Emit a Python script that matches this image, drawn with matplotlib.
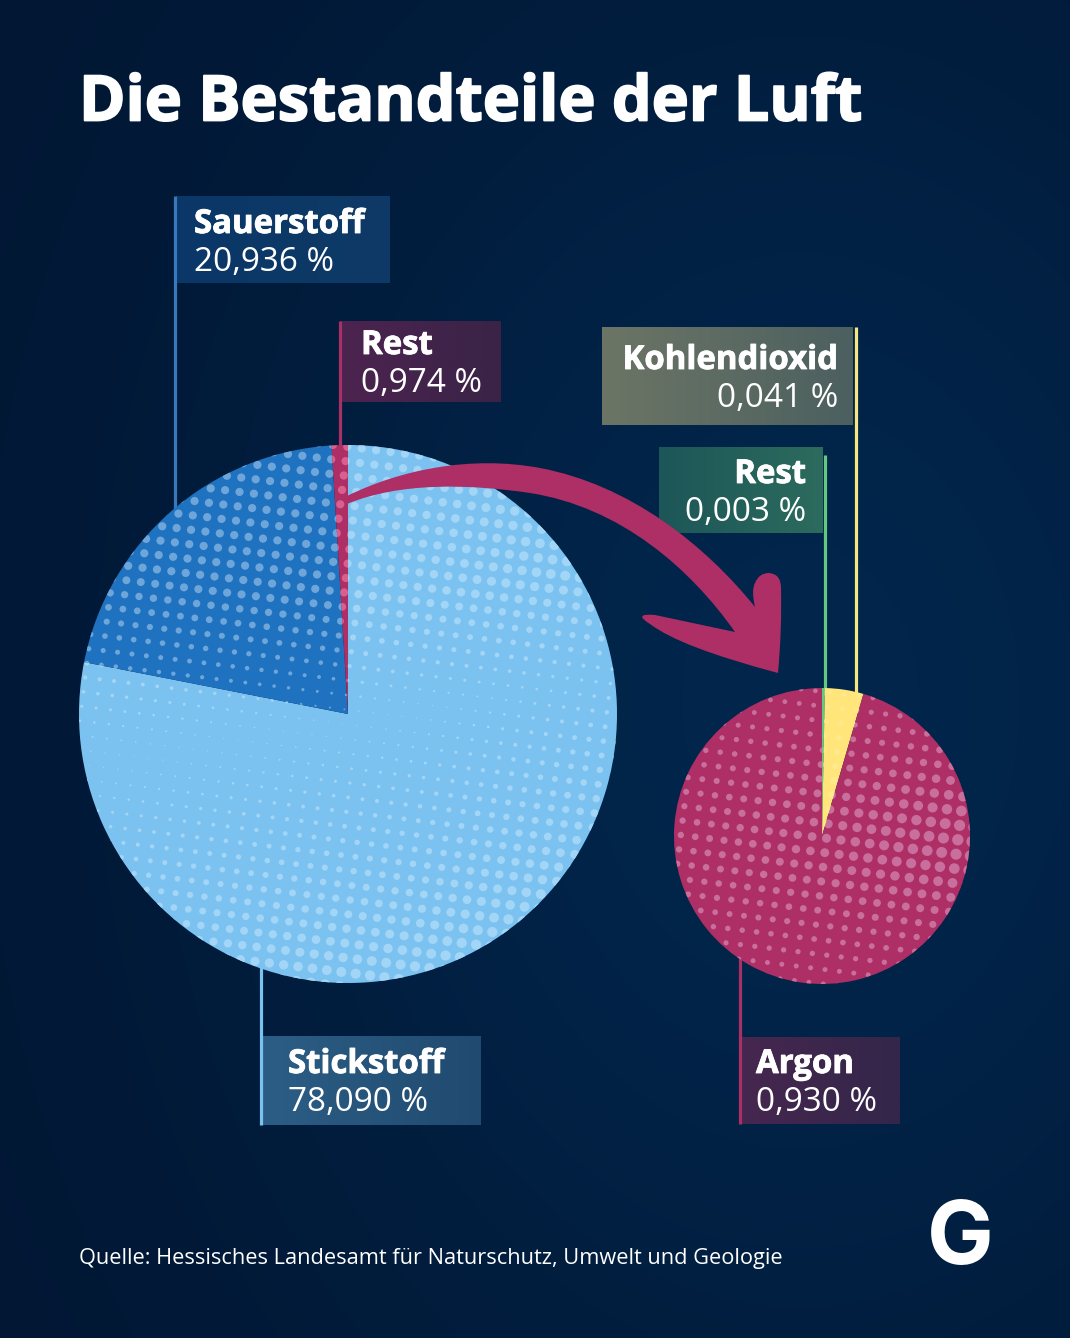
import numpy as np
import matplotlib
matplotlib.use('Agg')
import matplotlib.pyplot as plt
import matplotlib.patheffects as pe
from matplotlib.path import Path
from matplotlib.patches import PathPatch
from matplotlib.colors import to_rgb

W, H = 1070, 1338

# Daten
luft_namen = ['Stickstoff', 'Sauerstoff', 'Rest']
luft_werte = [78.090, 20.936, 0.974]
luft_texte = ['78,090 %', '20,936 %', '0,974 %']
rest_namen = ['Rest', 'Kohlendioxid', 'Argon']
rest_werte = [0.003, 0.041, 0.930]
rest_texte = ['0,003 %', '0,041 %', '0,930 %']

titel = 'Die Bestandteile der Luft'
quelle = 'Quelle: Hessisches Landesamt für Naturschutz, Umwelt und Geologie'

FONT = ['Open Sans', 'DejaVu Sans']


def Y(y):
    # Pixel von oben -> Achse von unten
    return H - y


fig = plt.figure(figsize=(W / 100, H / 100), dpi=100)
ax = fig.add_axes([0, 0, 1, 1])

# Hintergrund
xx, yy = np.meshgrid(np.arange(0, W, 4), np.arange(0, H, 4))
g = np.exp(-((xx - 800) / 600) ** 2 - ((yy - 700) / 800) ** 2)
dunkel = np.array([1, 22, 50]) / 255
hell = np.array([2, 38, 76]) / 255
bg = dunkel + (hell - dunkel) * g[..., None]
ax.imshow(bg, extent=(0, W, 0, H), origin='upper', aspect='auto', zorder=0, interpolation='bilinear')


def box(x0, x1, y0, y1, c0, c1):
    farbe = np.linspace(to_rgb(c0), to_rgb(c1), 64)[None, :, :]
    ax.imshow(farbe, extent=(x0, x1, Y(y1), Y(y0)), aspect='auto', zorder=1, interpolation='bilinear')


def fahne(x, y0, y1, farbe):
    ax.plot([x, x], [Y(y0), Y(y1)], color=farbe, lw=2.3, solid_capstyle='butt', zorder=2)


def label(x, y, name, wert, ha='left'):
    t = ax.text(x, Y(y), name, color='white', fontsize=23.7, fontweight='bold', family=FONT, ha=ha, va='baseline', zorder=6)
    t.set_path_effects([pe.withStroke(linewidth=0.6, foreground='white')])
    ax.text(x, Y(y + 38), wert, color='white', fontsize=24, family=FONT, ha=ha, va='baseline', zorder=6)


box(176, 390, 196, 283, '#0a3768', '#0f3a66')
fahne(174.5, 196, 510, '#3a78bd')
label(194, 233, luft_namen[1], luft_texte[1])

box(341, 501, 321, 402, '#4c2350', '#3a2347')
fahne(340, 321, 450, '#a93065')
label(361, 354, luft_namen[2], luft_texte[2])

box(602, 853, 327, 425, '#6c7565', '#4c6060')
fahne(855.5, 327, 695, '#f5e682')
label(838, 369, rest_namen[1], rest_texte[1], ha='right')

box(659, 823, 447, 533, '#1d5658', '#2c6b5d')
fahne(824.5, 455, 695, '#63c97f')
label(806, 483, rest_namen[0], rest_texte[0], ha='right')

box(262, 481, 1036, 1125, '#2c5e85', '#214a70')
fahne(261, 960, 1125, '#7cc2f0')
label(288, 1073, luft_namen[0], luft_texte[0])

box(741, 900, 1037, 1124, '#46264f', '#33264a')
fahne(740, 950, 1124, '#a93065')
label(756, 1073, rest_namen[2], rest_texte[2])

# Torten
gross, _ = ax.pie(luft_werte, colors=['#7cc2f0', '#1f72bf', '#ae2f66'], center=(348, Y(714)), radius=269,
                  startangle=90, counterclock=False, frame=False, wedgeprops={'lw': 0})
klein, _ = ax.pie(rest_werte, colors=['#63c97f', '#ffe57a', '#ae2f66'], center=(822, Y(836)), radius=148,
                  startangle=90, counterclock=False, frame=False, wedgeprops={'lw': 0})
for w in list(gross) + list(klein):
    w.set_zorder(3)


def gitter(ax0, ay0, cx, cy, r):
    # leicht gedrehtes Punktraster
    a = np.deg2rad(7)
    s = 14.5
    i, j = np.meshgrid(np.arange(-50, 51), np.arange(-50, 51))
    px = ax0 + s * (i * np.cos(a) - j * np.sin(a))
    py = ay0 + s * (i * np.sin(a) + j * np.cos(a))
    m = (px - cx) ** 2 + (py - cy) ** 2 < (r + 8) ** 2
    return px[m], py[m]


def punkte(px, py, radien, farbe, keil):
    s = (2 * radien * 0.72) ** 2
    sc = ax.scatter(px, Y(py), s=s, c=farbe, linewidths=0, zorder=4)
    sc.set_clip_path(keil)


# grosse Torte: Punkte werden zur schraegen Mitte hin kleiner
px, py = gitter(106.7, 621.7, 348, 714, 269)
band = 755 - 0.167 * (px - 150)
d = py - band
steil = np.interp(px, [100, 420], [0.018, 0.033])
oben = np.clip(0.5 + steil * -d, 0.5, 4.1)
unten = 0.5 + 0.018 * d
r = np.where(d < 0, oben, unten) + 0.006 * np.clip(px - 420, 0, None)
r = np.clip(r, 0.5, 5.1)
punkte(px, py, r, '#a3d6f6', gross[0])
punkte(px, py, r, '#6ea6da', gross[1])
punkte(px, py, r, '#d8608f', gross[2])

# kleine Torte: Punkte rechts am groessten
px, py = gitter(768.7, 714.3, 822, 836, 148)
r = 2.2 + (1 + 2.3 * (px - 680) / 260) * np.exp(-((py - 840) / 90) ** 2)
punkte(px, py, r, '#c96f9d', klein[2])
punkte(px, py, r, '#ffe98c', klein[1])

# Pfeil
P = [
    (Path.MOVETO, (347, 496)),
    (Path.CURVE4, (400, 470)), (Path.CURVE4, (470, 455)), (Path.CURVE4, (540, 468)),
    (Path.CURVE4, (630, 485)), (Path.CURVE4, (705, 545)), (Path.CURVE4, (755, 607)),
    (Path.CURVE3, (751, 590)), (Path.CURVE3, (755, 583)),
    (Path.CURVE3, (759, 573)), (Path.CURVE3, (769, 573)),
    (Path.CURVE3, (781, 574)), (Path.CURVE3, (781, 588)),
    (Path.CURVE3, (782, 630)), (Path.CURVE3, (778, 673)),
    (Path.CURVE3, (680, 647)), (Path.CURVE3, (650, 624)),
    (Path.CURVE3, (632, 613)), (Path.CURVE3, (655, 615)),
    (Path.LINETO, (735, 632)),
    (Path.CURVE4, (690, 568)), (Path.CURVE4, (620, 507)), (Path.CURVE4, (530, 493)),
    (Path.CURVE4, (470, 484)), (Path.CURVE4, (400, 482)), (Path.CURVE4, (347, 504)),
    (Path.CLOSEPOLY, (347, 496)),
]
codes = [c for c, _ in P]
verts = [(p[0], Y(p[1])) for _, p in P]
ax.add_patch(PathPatch(Path(verts, codes), fc='#ae2f66', ec='none', zorder=5))

# Texte
t = ax.text(79, Y(120.5), titel, color='white', fontsize=45.3, fontweight='bold', family=FONT, va='baseline', zorder=6)
t.set_path_effects([pe.withStroke(linewidth=1.3, foreground='white')])
ax.text(79, Y(1264), quelle, color='white', fontsize=15.65, family=FONT, va='baseline', zorder=6)
ax.text(960, Y(1264), 'G', color='white', fontsize=64, fontweight='bold', family=['Inter', 'DejaVu Sans'], ha='center', va='baseline', zorder=6)

ax.set_xlim(0, W)
ax.set_ylim(0, H)
ax.set_aspect('auto')
ax.axis('off')

fig.savefig('out.png', dpi=100)
